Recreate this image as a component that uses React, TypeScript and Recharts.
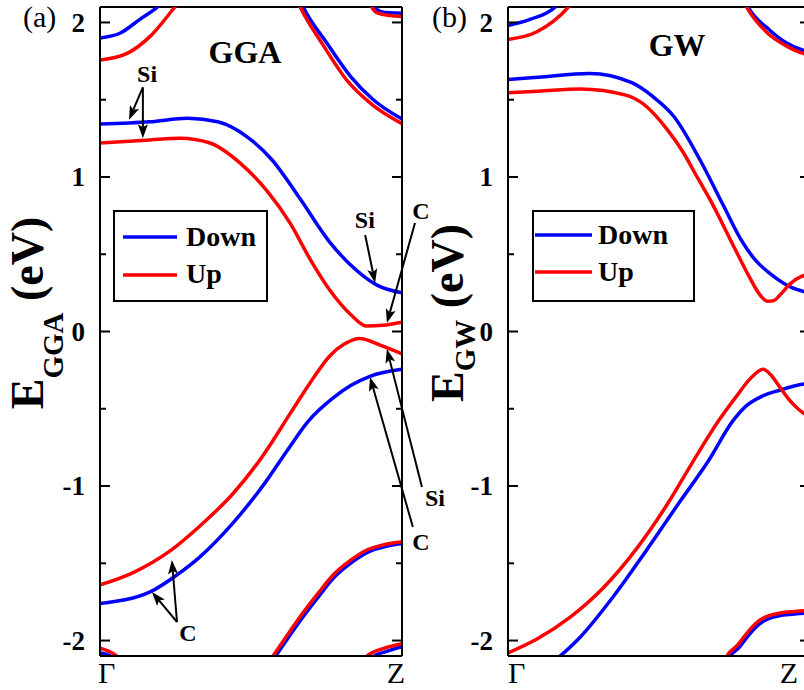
import { LineChart, Line, XAxis, YAxis, ReferenceLine, ReferenceDot, Legend } from "recharts"

type Pt = [number, number]

const FONT = '"Liberation Serif", "Times New Roman", serif'
const BLUE = "#0000ff"
const RED = "#ff0000"

const K_TICKS = [0, 1]
const K_NAMES = ["Γ", "Z"]
const E_TICKS = [-2, -1.5, -1, -0.5, 0, 0.5, 1, 1.5, 2]
const E_RANGE: [number, number] = [-2.1, 2.1]
const SPINS = ["Down", "Up"]

// ---- (a) GGA, spin down ----
const gga_dn_a: Pt[] = [[0, 1.9], [0.066, 1.93], [0.132, 2.02], [0.19, 2.1], [0.23, 2.18]]
const gga_dn_b: Pt[] = [[0.64, 2.25], [0.673, 2.1], [0.75, 1.87], [0.83, 1.65], [0.905, 1.5], [1, 1.375]]
const gga_dn_c: Pt[] = [[0.9, 2.2], [0.91, 2.1], [0.93, 2.07], [0.96, 2.062], [1, 2.06]]
const gga_dn_cb: Pt[] = [[0, 1.343], [0.166, 1.357], [0.29, 1.38], [0.39, 1.357], [0.487, 1.26], [0.57, 1.11], [0.662, 0.86], [0.76, 0.58], [0.83, 0.43], [0.917, 0.3], [1, 0.25]]
const gga_dn_vb: Pt[] = [[0, -1.76], [0.166, -1.685], [0.255, -1.575], [0.33, -1.46], [0.44, -1.24], [0.55, -0.97], [0.62, -0.77], [0.69, -0.58], [0.772, -0.43], [0.83, -0.35], [0.894, -0.29], [1, -0.245]]
const gga_dn_d: Pt[] = [[0.535, -2.23], [0.578, -2.11], [0.625, -1.977], [0.667, -1.86], [0.725, -1.712], [0.777, -1.588], [0.835, -1.492], [0.889, -1.426], [0.945, -1.392], [1, -1.372]]
const gga_dn_e: Pt[] = [[0, -2.08], [0.035, -2.1], [0.07, -2.16]]
const gga_dn_f: Pt[] = [[0.88, -2.18], [0.9, -2.11], [0.95, -2.07], [1, -2.04]]

// ---- (a) GGA, spin up ----
const gga_up_a: Pt[] = [[0, 1.757], [0.09, 1.8], [0.166, 1.91], [0.248, 2.1], [0.29, 2.2]]
const gga_up_b: Pt[] = [[0.63, 2.25], [0.663, 2.1], [0.74, 1.85], [0.82, 1.62], [0.9, 1.47], [1, 1.345]]
const gga_up_c: Pt[] = [[0.895, 2.2], [0.9, 2.1], [0.92, 2.06], [0.96, 2.045], [1, 2.04]]
const gga_up_cb: Pt[] = [[0, 1.22], [0.166, 1.24], [0.265, 1.25], [0.364, 1.22], [0.464, 1.09], [0.553, 0.91], [0.63, 0.7], [0.695, 0.47], [0.76, 0.27], [0.83, 0.11], [0.884, 0.035], [0.937, 0.04], [1, 0.06]]
const gga_up_vb: Pt[] = [[0, -1.64], [0.11, -1.56], [0.232, -1.42], [0.33, -1.26], [0.44, -1.05], [0.53, -0.83], [0.63, -0.53], [0.7, -0.32], [0.76, -0.16], [0.81, -0.08], [0.86, -0.045], [0.93, -0.09], [1, -0.145]]
const gga_up_d: Pt[] = [[0.53, -2.22], [0.573, -2.1], [0.62, -1.965], [0.662, -1.848], [0.72, -1.7], [0.772, -1.576], [0.83, -1.48], [0.884, -1.414], [0.94, -1.38], [1, -1.36]]
const gga_up_e: Pt[] = [[0, -2.05], [0.03, -2.07], [0.056, -2.1], [0.08, -2.15]]
const gga_up_f: Pt[] = [[0.87, -2.16], [0.884, -2.1], [0.94, -2.05], [1, -2.02]]

// ---- (b) GW, spin down ----
const gw_dn_a: Pt[] = [[0, 1.98], [0.073, 2.02], [0.156, 2.1], [0.19, 2.18]]
const gw_dn_b: Pt[] = [[0.77, 2.2], [0.795, 2.1], [0.867, 1.95], [0.92, 1.87], [0.977, 1.82], [1, 1.81]]
const gw_dn_cb: Pt[] = [[0, 1.63], [0.1, 1.645], [0.27, 1.67], [0.41, 1.61], [0.48, 1.52], [0.55, 1.39], [0.636, 1.11], [0.712, 0.82], [0.77, 0.6], [0.82, 0.46], [0.868, 0.375], [0.944, 0.28], [1, 0.25]]
const gw_dn_vb: Pt[] = [[0, -2.24], [0.1, -2.19], [0.172, -2.1], [0.238, -1.98], [0.347, -1.72], [0.457, -1.42], [0.566, -1.11], [0.666, -0.83], [0.744, -0.58], [0.79, -0.48], [0.84, -0.42], [0.9, -0.38], [0.98, -0.34], [1, -0.335]]
const gw_dn_d: Pt[] = [[0.705, -2.23], [0.73, -2.115], [0.765, -2.045], [0.795, -1.97], [0.825, -1.905], [0.85, -1.87], [0.875, -1.85], [0.905, -1.837], [0.955, -1.827], [1, -1.82]]

// ---- (b) GW, spin up ----
const gw_up_a: Pt[] = [[0, 1.89], [0.096, 1.94], [0.2, 2.1], [0.24, 2.2]]
const gw_up_b: Pt[] = [[0.765, 2.2], [0.79, 2.1], [0.86, 1.93], [0.92, 1.85], [0.977, 1.8], [1, 1.79]]
const gw_up_cb: Pt[] = [[0, 1.545], [0.1, 1.555], [0.24, 1.57], [0.39, 1.53], [0.45, 1.47], [0.53, 1.3], [0.58, 1.16], [0.626, 1.0], [0.67, 0.85], [0.745, 0.56], [0.8, 0.35], [0.835, 0.235], [0.86, 0.195], [0.88, 0.2], [0.9, 0.235], [0.935, 0.31], [0.97, 0.355], [1, 0.37]]
const gw_up_vb: Pt[] = [[0, -2.08], [0.096, -1.99], [0.205, -1.85], [0.315, -1.66], [0.424, -1.41], [0.53, -1.11], [0.61, -0.85], [0.7, -0.57], [0.76, -0.41], [0.8, -0.31], [0.845, -0.245], [0.87, -0.28], [0.9, -0.36], [0.93, -0.44], [0.96, -0.5], [0.98, -0.53], [1, -0.545]]
const gw_up_d: Pt[] = [[0.7, -2.22], [0.725, -2.1], [0.76, -2.03], [0.79, -1.955], [0.82, -1.89], [0.845, -1.855], [0.87, -1.835], [0.9, -1.822], [0.95, -1.812], [1, -1.805]]

const GGA_DOWN = [gga_dn_a, gga_dn_b, gga_dn_c, gga_dn_cb, gga_dn_vb, gga_dn_d, gga_dn_e, gga_dn_f]
const GGA_UP = [gga_up_a, gga_up_b, gga_up_c, gga_up_cb, gga_up_vb, gga_up_d, gga_up_e, gga_up_f]
const GW_DOWN = [gw_dn_a, gw_dn_b, gw_dn_cb, gw_dn_vb, gw_dn_d]
const GW_UP = [gw_up_a, gw_up_b, gw_up_cb, gw_up_vb, gw_up_d]

// atom labels in (k, E) and arrows [k1, E1, k2, E2] (head at k2, E2)
const GGA_NOTES: { k: number; e: number; text: string }[] = [
    { k: 0.156, e: 1.673, text: "Si" },
    { k: 0.877, e: 0.722, text: "Si" },
    { k: 1.063, e: 0.786, text: "C" },
    { k: 1.109, e: -1.071, text: "Si" },
    { k: 1.063, e: -1.362, text: "C" },
    { k: 0.291, e: -1.945, text: "C" },
]
const GGA_ARROWS: [number, number, number, number][] = [
    [0.142, 1.58, 0.096, 1.37],
    [0.142, 1.58, 0.142, 1.25],
    [0.878, 0.625, 0.911, 0.314],
    [1.043, 0.702, 0.95, 0.055],
    [1.066, -1.006, 0.95, -0.113],
    [1.036, -1.265, 0.894, -0.294],
    [0.255, -1.88, 0.172, -1.686],
    [0.255, -1.88, 0.238, -1.479],
]

const toData = (pts: Pt[]) => pts.map(([k, e]) => ({ k, e }))

const Arrow = (p: any) => {
    const { x1, y1, x2, y2 } = p
    const len = Math.hypot(x2 - x1, y2 - y1) || 1
    const ux = (x2 - x1) / len
    const uy = (y2 - y1) / len
    const hl = 14
    const hw = 5
    const bx = x2 - ux * hl
    const by = y2 - uy * hl
    return (
        <g>
            <line x1={x1} y1={y1} x2={bx + ux * 3} y2={by + uy * 3} stroke="#000" strokeWidth={2} />
            <polygon
                points={`${x2},${y2} ${bx - uy * hw},${by + ux * hw} ${bx + ux * 3},${by + uy * 3} ${bx + uy * hw},${by - ux * hw}`}
                fill="#000"
            />
        </g>
    )
}

const ETick = (p: any) => {
    const { x, y, payload, side } = p
    const major = Number.isInteger(payload.value)
    const len = major ? 10 : 6
    const dir = side === "left" ? 1 : -1
    return (
        <g>
            <line x1={x} x2={x + dir * len} y1={y} y2={y} stroke="#000" strokeWidth={2} />
            {major && side === "left" && (
                <text x={x - 15} y={y} dy="0.35em" textAnchor="end" fontFamily={FONT} fontWeight={700} fontSize={27} fill="#000">
                    {payload.value}
                </text>
            )}
        </g>
    )
}

const KTick = (p: any) => {
    const { x, y, payload, zShift, gShift } = p
    const first = payload.value === 0
    return (
        <text
            x={first ? x + gShift : x + zShift}
            y={y + 27}
            textAnchor={first ? "start" : "end"}
            fontFamily={FONT}
            fontSize={30}
            fill="#000"
        >
            {K_NAMES[first ? 0 : 1]}
        </text>
    )
}

const YLabel = (p: any) => {
    const { bx, cy, sub, subDy } = p
    return (
        <text transform={`translate(${bx},${cy}) rotate(-90)`} textAnchor="middle" fontFamily={FONT} fontWeight={700} fontSize={46} fill="#000">
            <tspan>E</tspan>
            <tspan fontSize={29} dy={subDy}>{sub}</tspan>
            <tspan dy={-subDy}>{"\u00a0(eV)"}</tspan>
        </text>
    )
}

const LegendBox = ({ w, lx1, lx2, tx, rows }: any) => (
    <svg width={w} height={92} style={{ display: "block" }}>
        <rect x={1} y={1} width={w - 2} height={90} fill="none" stroke="#000" strokeWidth={2} />
        {SPINS.map((s, i) => (
            <g key={s}>
                <line x1={lx1} x2={lx2} y1={rows[i][0]} y2={rows[i][0]} stroke={i === 0 ? BLUE : RED} strokeWidth={3.5} />
                <text x={tx} y={rows[i][1]} fontFamily={FONT} fontWeight={700} fontSize={28} fill="#000">{s}</text>
            </g>
        ))}
    </svg>
)

interface PanelProps {
    left: number
    width: number
    yWidth: number
    marginRight: number
    down: Pt[][]
    up: Pt[][]
    title: { k: number; e: number; text: string }
    notes: { k: number; e: number; text: string }[]
    arrows: [number, number, number, number][]
    sub: string
    labelX: number
    subDy: number
    gShift: number
    zShift: number
    legend: { left: number; w: number; lx1: number; lx2: number; tx: number; rows: number[][] }
}

function Panel(p: PanelProps) {
    const axisLine = { stroke: "#000", strokeWidth: 2 }
    return (
        <div style={{ position: "absolute", left: p.left, top: 0 }}>
            <LineChart width={p.width} height={690} margin={{ top: 7, right: p.marginRight, bottom: 0, left: 0 }}>
                <XAxis
                    dataKey="k"
                    type="number"
                    domain={[0, 1]}
                    ticks={K_TICKS}
                    interval={0}
                    allowDataOverflow
                    height={34}
                    axisLine={axisLine}
                    tickLine={false}
                    tickSize={0}
                    tickMargin={0}
                    tick={<KTick gShift={p.gShift} zShift={p.zShift} />}
                />
                <YAxis
                    type="number"
                    domain={E_RANGE}
                    ticks={E_TICKS}
                    interval={0}
                    allowDataOverflow
                    width={p.yWidth}
                    axisLine={axisLine}
                    tickLine={false}
                    tickSize={0}
                    tickMargin={0}
                    tick={<ETick side="left" />}
                    label={<YLabel bx={p.labelX} cy={313} sub={p.sub} subDy={p.subDy} />}
                />
                <YAxis
                    yAxisId="r"
                    orientation="right"
                    type="number"
                    domain={E_RANGE}
                    ticks={E_TICKS}
                    interval={0}
                    allowDataOverflow
                    width={1}
                    axisLine={axisLine}
                    tickLine={false}
                    tickSize={0}
                    tickMargin={0}
                    tick={<ETick side="right" />}
                />
                <ReferenceLine y={2.1} stroke="#000" strokeWidth={2} />

                {p.down.map((pts, i) => (
                    <Line key={"d" + i} data={toData(pts)} dataKey="e" type="monotone" stroke={BLUE}
                        strokeWidth={3.5} dot={false} activeDot={false} legendType="none" isAnimationActive={false} />
                ))}
                {p.up.map((pts, i) => (
                    <Line key={"u" + i} data={toData(pts)} dataKey="e" type="monotone" stroke={RED}
                        strokeWidth={3.5} dot={false} activeDot={false} legendType="none" isAnimationActive={false} />
                ))}

                {p.arrows.map((a, i) => (
                    <ReferenceLine key={"a" + i} segment={[{ x: a[0], y: a[1] }, { x: a[2], y: a[3] }]}
                        ifOverflow="visible" stroke="#000" shape={Arrow} />
                ))}
                {[p.title, ...p.notes].map((n, i) => (
                    <ReferenceDot key={"n" + i} x={n.k} y={n.e} r={0} ifOverflow="visible" fill="none" stroke="none"
                        label={{
                            value: n.text,
                            position: "center",
                            fill: "#000",
                            fontSize: i === 0 ? 32 : 24,
                            fontWeight: 700,
                            fontFamily: FONT,
                        }}
                    />
                ))}

                <Legend
                    layout="horizontal"
                    verticalAlign="middle"
                    align="center"
                    wrapperStyle={{ left: p.legend.left, top: 210, width: p.legend.w, height: 92 }}
                    content={() => <LegendBox {...p.legend} />}
                />
            </LineChart>
        </div>
    )
}

export default function App() {
    return (
        <div style={{ position: "absolute", left: 0, top: 0, width: 804, height: 690, overflow: "hidden", background: "#fff" }}>
            <Panel
                left={0}
                width={460}
                yWidth={100}
                marginRight={57}
                down={GGA_DOWN}
                up={GGA_UP}
                title={{ k: 0.48, e: 1.809, text: "GGA" }}
                notes={GGA_NOTES}
                arrows={GGA_ARROWS}
                sub="GGA"
                labelX={43}
                subDy={20}
                gShift={-2}
                zShift={3}
                legend={{ left: 113, w: 155, lx1: 10, lx2: 64, tx: 73, rows: [[27, 36], [65, 73]] }}
            />
            <Panel
                left={415}
                width={400}
                yWidth={93}
                marginRight={4}
                down={GW_DOWN}
                up={GW_UP}
                title={{ k: 0.56, e: 1.854, text: "GW" }}
                notes={[]}
                arrows={[]}
                sub="GW"
                labelX={48}
                subDy={12}
                gShift={0}
                zShift={-12}
                legend={{ left: 117, w: 163, lx1: 3, lx2: 60, tx: 66, rows: [[25, 34], [62, 71]] }}
            />
            <svg width={804} height={690} style={{ position: "absolute", left: 0, top: 0, pointerEvents: "none" }}>
                <text x={23} y={27} fontFamily={FONT} fontSize={30} fill="#000">(a)</text>
                <text x={432} y={27} fontFamily={FONT} fontSize={30} fill="#000">(b)</text>
            </svg>
        </div>
    )
}
